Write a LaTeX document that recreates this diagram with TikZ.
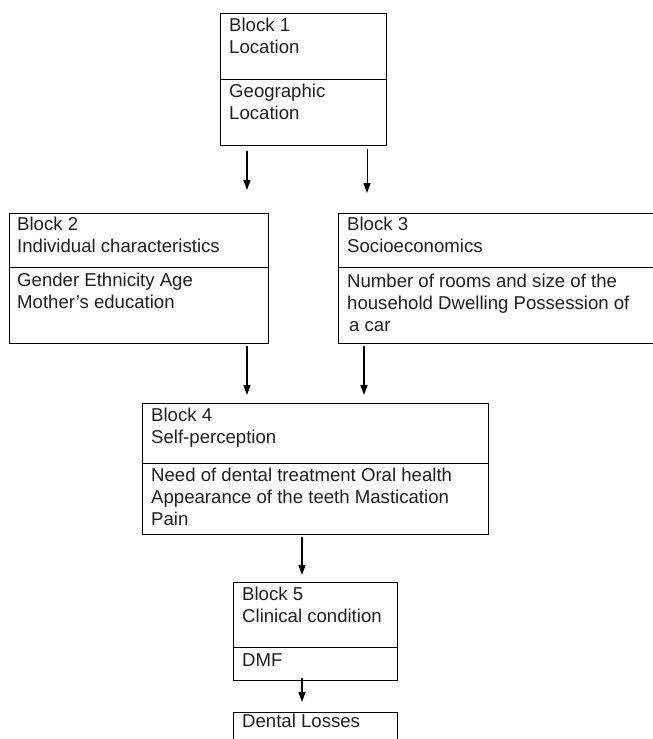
\documentclass[tikz,border=0pt]{standalone}
\usepackage{fontspec}
\setmainfont{Liberation Sans}
\usetikzlibrary{arrows.meta}
\begin{document}
\begin{tikzpicture}[x=1pt,y=-1pt,
  box/.style={draw, line width=0.9pt, inner sep=0pt, anchor=north west},
  txt/.style={anchor=north west, inner sep=0pt, align=left,
              font=\fontsize{18.6}{22}\selectfont, text=black!88},
  arr/.style={line width=1.3pt, -{Triangle[width=7pt,length=10pt]}}]
\useasboundingbox (0,0) rectangle (653,739);
\clip (0,0) rectangle (653,739);
% boxes
\node[box, minimum width=166pt, minimum height=132pt] (b1) at (220,13) {};
\node[box, minimum width=259pt, minimum height=130pt] (b2) at (9,213) {};
\node[box, minimum width=342pt, minimum height=130pt] (b3) at (338,213) {};
\node[box, minimum width=346pt, minimum height=131pt] (b4) at (142,403) {};
\node[box, minimum width=164pt, minimum height=98pt] (b5) at (233,582) {};
\node[box, minimum width=164pt, minimum height=60pt] (b6) at (233,712) {};
% dividers
\coordinate (d1) at (0,79);
\coordinate (d2) at (0,267);
\coordinate (d4) at (0,463);
\coordinate (d5) at (0,647);
\draw[line width=0.9pt] (b1.west |- d1) -- (b1.east |- d1);
\draw[line width=0.9pt] (b2.west |- d2) -- (b2.east |- d2);
\draw[line width=0.9pt] (b3.west |- d2) -- (b3.east |- d2);
\draw[line width=0.9pt] (b4.west |- d4) -- (b4.east |- d4);
\draw[line width=0.9pt] (b5.west |- d5) -- (b5.east |- d5);
% texts
\node[txt] (t1a) at (229,15.6) {\strut Block 1\\Location};
\node[txt] (t1b) at (229,81.6) {\strut Geographic\\Location};
\node[txt] (t2a) at (17,214.6) {\strut Block 2\\Individual characteristics};
\node[txt] (t2b) at (17,270.6) {\strut Gender Ethnicity Age\\Mother’s education};
\node[txt] (t3a) at (347,214.6) {\strut Block 3\\Socioeconomics};
\node[txt] (t3b) at (347,272.0) {\strut Number of rooms and size of the\\household Dwelling Possession of\\\hspace{2pt}a car};
\node[txt] (t4a) at (151,405.6) {\strut Block 4\\Self-perception};
\node[txt] (t4b) at (151,465.6) {\strut Need of dental treatment Oral health\\Appearance of the teeth Mastication\\Pain};
\node[txt] (t5a) at (242,584.6) {\strut Block 5\\Clinical condition};
\node[txt] (t5b) at (242,650.6) {\strut DMF};
\node[txt] (t6) at (242,711.6) {\strut Dental Losses};
% arrows
\coordinate (xa) at (247,0);
\coordinate (xb) at (367,0);
\coordinate (xc) at (364,0);
\coordinate (xd) at (302,0);
\draw[arr, shorten <=5pt, shorten >=23pt] (b1.south -| xa) -- (b2.north -| xa);
\draw[arr, line width=1pt, shorten <=3pt, shorten >=20pt] (b1.south -| xb) -- (b3.north -| xb);
\draw[arr, shorten <=2pt, shorten >=8pt] (b2.south -| xa) -- (b4.north -| xa);
\draw[arr, shorten <=2pt, shorten >=8pt] (b3.south -| xc) -- (b4.north -| xc);
\draw[arr, shorten <=2pt, shorten >=7pt] (b4.south -| xd) -- (b5.north -| xd);
\draw[arr, shorten <=-3pt, shorten >=10pt] (b5.south -| xd) -- (b6.north -| xd);
\end{tikzpicture}
\end{document}
